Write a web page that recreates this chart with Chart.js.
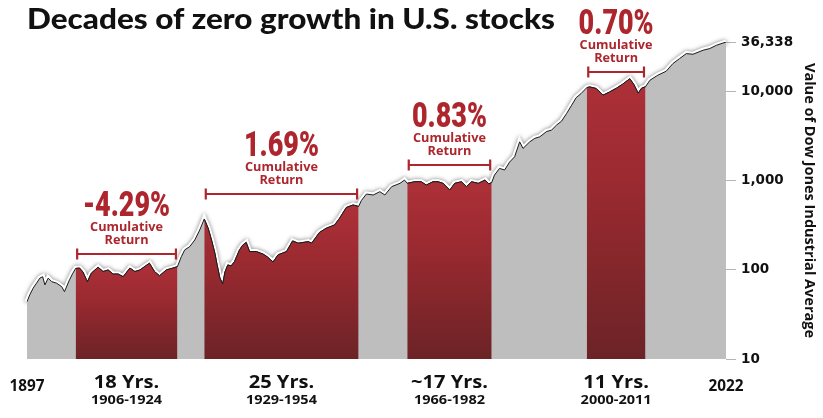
<!DOCTYPE html>
<html>
<head>
<meta charset="utf-8">
<script src="https://cdn.jsdelivr.net/npm/chart.js@4.4.0/dist/chart.umd.min.js"></script>
<style>
    html, body { margin: 0; padding: 0; background: #fff; }
</style>
</head>
<body>
<canvas id="dow-chart" width="823" height="418"></canvas>
<script>
// Dow Jones Industrial Average (log scale)
var years = [
    1897.0, 1897.5, 1898.1, 1898.7, 1899.3, 1899.8, 1900.2, 1900.8, 1901.4, 1902.3,
    1903.2, 1903.7, 1904.6, 1905.2, 1905.7, 1906.4, 1907.0, 1907.8, 1908.5, 1909.7,
    1910.6, 1911.5, 1912.4, 1913.3, 1914.2, 1915.4, 1916.3, 1917.2, 1918.2, 1918.9,
    1919.8, 1920.7, 1921.9, 1923.1, 1923.9, 1924.6, 1925.2, 1926.1, 1927.0, 1927.9,
    1928.7, 1929.4, 1930.0, 1930.6, 1931.0, 1931.5, 1932.0, 1932.4, 1932.9, 1933.5,
    1934.1, 1935.0, 1935.6, 1936.2, 1936.8, 1938.0, 1939.2, 1940.0, 1941.0, 1941.9,
    1943.4, 1944.5, 1945.5, 1947.3, 1947.9, 1949.3, 1950.5, 1952.0, 1952.9, 1954.1,
    1955.3, 1956.3, 1956.8, 1957.7, 1958.9, 1960.1, 1961.0, 1962.2, 1963.7, 1964.5,
    1965.0, 1966.3, 1967.5, 1968.4, 1969.6, 1970.5, 1971.4, 1972.6, 1973.5, 1974.7,
    1975.6, 1976.5, 1977.7, 1978.9, 1979.6, 1980.1, 1980.6, 1981.5, 1982.4, 1983.3,
    1984.2, 1985.1, 1985.7, 1986.9, 1987.8, 1988.7, 1989.9, 1990.8, 1991.7, 1992.6,
    1993.5, 1994.4, 1995.2, 1996.1, 1997.1, 1997.6, 1998.8, 2000.0, 2001.2, 2002.4,
    2003.5, 2004.8, 2005.5, 2006.3, 2006.9, 2007.6, 2008.4, 2009.8, 2011.3, 2012.5,
    2013.7, 2014.9, 2016.1, 2017.9, 2019.1, 2020.3, 2022.0
];
var dowValues = [
    44, 52.6, 62.5, 71, 81, 84, 68, 81, 74, 71,
    65, 57, 77.5, 92, 104, 105, 95, 73.6, 92, 107.5,
    96, 100, 90, 90, 84, 105, 96, 100, 111, 119,
    96, 86, 100, 105, 109, 141, 168, 183, 217, 282,
    374, 294, 217, 154, 114, 81, 70, 95, 114, 111,
    124, 168, 191, 204, 161, 161, 151, 140, 123, 148,
    161, 212, 200, 208, 200, 264, 294, 320, 381, 503,
    537, 517, 603, 713, 695, 757, 695, 861, 940, 1023,
    940, 979, 979, 899, 979, 979, 940, 791, 940, 979,
    861, 979, 940, 1023, 925, 960, 1164, 1384, 1325, 1629,
    1867, 2748, 2318, 2748, 3006, 3132, 3581, 3724, 4238, 4698,
    5728, 7096, 8606, 9596, 11150, 11380, 10920, 9183, 10000, 11000,
    12190, 14060, 12190, 9664, 11000, 11430, 13520, 15380, 17060, 20800,
    23660, 26920, 26480, 29370, 30690, 33400, 36338
];

// flat stretches, placed where the picture draws them
var bandStart = [1905.7, 1928.7, 1965.0, 1997.1];
var bandEnd = [1923.9, 1956.3, 1980.1, 2007.6];
var bandLength = ['18 Yrs.', '25 Yrs.', '~17 Yrs.', '11 Yrs.'];
var bandSpan = ['1906-1924', '1929-1954', '1966-1982', '2000-2011'];
var bandReturn = ['-4.29%', '1.69%', '0.83%', '0.70%'];

var yTicks = [10, 100, 1000, 10000, 36338];
var firstYear = 1897;
var lastYear = 2022;
var chartTitle = 'Decades of zero growth in U.S. stocks';
var axisTitle = 'Value of Dow Jones Industrial Average';

var RED = '#ad262d';
var bracketY = [254, 194, 165, 72];

// font + how wide a sample string is in the picture
var textStyles = {
    title: { font: '900 28px Lato', sample: chartTitle, width: 528 },
    pct: { font: '900 35px Roboto', sample: '0.83%', width: 75 },
    sub: { font: 'bold 13px "Open Sans"', sample: 'Cumulative', width: 73 },
    len: { font: 'bold 17px "Open Sans"', sample: '~17 Yrs.', width: 77 },
    span: { font: 'bold 12px "Open Sans"', sample: '1966-1982', width: 71 },
    year: { font: 'bold 15.5px "Open Sans"', sample: '1897', width: 35 }
};

var series = years.map(function(y, i) {
    return { x: y, y: dowValues[i] };
});

/*
*   gradient for one red block, from its own top down to the baseline
*/
function blockGradient(context) {
    var chart = context.chart;
    var area = chart.chartArea;
    if (!area || !chart.scales.y) return RED;
    var pts = context.dataset.data;
    var top = Math.max.apply(null, pts.map(function(p) { return p.y; }));
    var y0 = chart.scales.y.getPixelForValue(top);
    var g = chart.ctx.createLinearGradient(0, y0, 0, area.bottom);
    g.addColorStop(0, '#ad3038');
    g.addColorStop(0.35, '#9c2a31');
    g.addColorStop(1, '#6c2326');
    return g;
}

var datasets = [{
    // white rim under the curve
    data: series,
    borderColor: '#ffffff',
    borderWidth: 5,
    fill: false,
    pointRadius: 0,
    order: 10,
    clip: 10
}, {
    data: series,
    borderColor: '#1b1b1b',
    borderWidth: 1,
    backgroundColor: '#bebebe',
    fill: 'start',
    pointRadius: 0,
    order: 5
}];

for (var i = 0; i < bandStart.length; i++) {
    datasets.push({
        data: series.filter(function(p) {
            return p.x >= bandStart[i] && p.x <= bandEnd[i];
        }),
        borderColor: '#1b1b1b',
        borderWidth: 1,
        backgroundColor: blockGradient,
        fill: 'start',
        pointRadius: 0,
        order: 1
    });
}

function drawText(ctx, style, text, x, y) {
    ctx.font = style.font;
    var sx = style.width / ctx.measureText(style.sample).width;
    ctx.save();
    ctx.translate(x, y);
    ctx.scale(sx, 1);
    ctx.fillText(text, 0, 0);
    ctx.restore();
}

var haloPlugin = {
    id: 'halo',
    beforeDatasetDraw: function(chart, args) {
        if (args.index !== 0) return;
        chart.ctx.save();
        chart.ctx.shadowColor = 'rgba(0,0,0,0.5)';
        chart.ctx.shadowBlur = 4;
    },
    afterDatasetDraw: function(chart, args) {
        if (args.index !== 0) return;
        chart.ctx.restore();
    }
};

var labelsPlugin = {
    id: 'dowLabels',
    afterDraw: function(chart) {
        var ctx = chart.ctx;
        var xs = chart.scales.x;
        ctx.save();

        // title
        ctx.fillStyle = '#111';
        ctx.textAlign = 'left';
        ctx.textBaseline = 'alphabetic';
        drawText(ctx, textStyles.title, chartTitle, 27, 28.5);

        ctx.textAlign = 'center';
        for (var i = 0; i < bandStart.length; i++) {
            var x0 = xs.getPixelForValue(bandStart[i]) + 1.5;
            var x1 = xs.getPixelForValue(bandEnd[i]) - 1.5;
            var cx = (x0 + x1) / 2;
            var by = bracketY[i];

            ctx.strokeStyle = RED;
            ctx.lineWidth = 2.2;
            ctx.beginPath();
            ctx.moveTo(x0, by);
            ctx.lineTo(x1, by);
            ctx.moveTo(x0, by - 5.5);
            ctx.lineTo(x0, by + 5.5);
            ctx.moveTo(x1, by - 5.5);
            ctx.lineTo(x1, by + 5.5);
            ctx.stroke();

            ctx.fillStyle = RED;
            ctx.textBaseline = 'alphabetic';
            drawText(ctx, textStyles.pct, bandReturn[i], cx, by - 38.5);
            ctx.textBaseline = 'middle';
            drawText(ctx, textStyles.sub, 'Cumulative', cx, by - 26.5);
            drawText(ctx, textStyles.sub, 'Return', cx, by - 13.5);

            ctx.fillStyle = '#111';
            drawText(ctx, textStyles.len, bandLength[i], cx, 383);
            drawText(ctx, textStyles.span, bandSpan[i], cx, 400.5);
        }

        ctx.textBaseline = 'middle';
        drawText(ctx, textStyles.year, String(firstYear), xs.getPixelForValue(firstYear), 387);
        drawText(ctx, textStyles.year, String(lastYear), xs.getPixelForValue(lastYear), 387);
        ctx.restore();
    }
};

var ctx = document.getElementById('dow-chart').getContext('2d');
var dowChart = new Chart(ctx, {
    type: 'line',
    data: { datasets: datasets },
    options: {
        responsive: false,
        animation: false,
        layout: { padding: { left: 27, top: 42, bottom: 59, right: 0 } },
        elements: { line: { tension: 0 } },
        plugins: {
            legend: { display: false },
            tooltip: { enabled: false }
        },
        scales: {
            x: {
                type: 'linear',
                min: firstYear,
                max: lastYear,
                display: false
            },
            y: {
                type: 'logarithmic',
                position: 'right',
                min: 10,
                max: 36338,
                bounds: 'data',
                afterBuildTicks: function(s) {
                    s.ticks = yTicks.map(function(v) { return { value: v }; });
                },
                afterFit: function(s) {
                    s.width = 97;
                },
                grid: { drawOnChartArea: false, tickLength: 10, color: '#b5b5b5' },
                border: { display: false },
                ticks: {
                    autoSkip: false,
                    padding: 5,
                    color: '#111',
                    font: { family: 'DejaVu Sans', weight: 'bold', size: 13.5 },
                    callback: function(v) { return Number(v).toLocaleString('en-US'); }
                },
                title: {
                    display: true,
                    text: axisTitle,
                    color: '#111',
                    font: { family: '"Open Sans"', weight: 'bold', size: 14.5 },
                    padding: { top: 5, bottom: 0 }
                }
            }
        }
    },
    plugins: [haloPlugin, labelsPlugin]
});
</script>
</body>
</html>
